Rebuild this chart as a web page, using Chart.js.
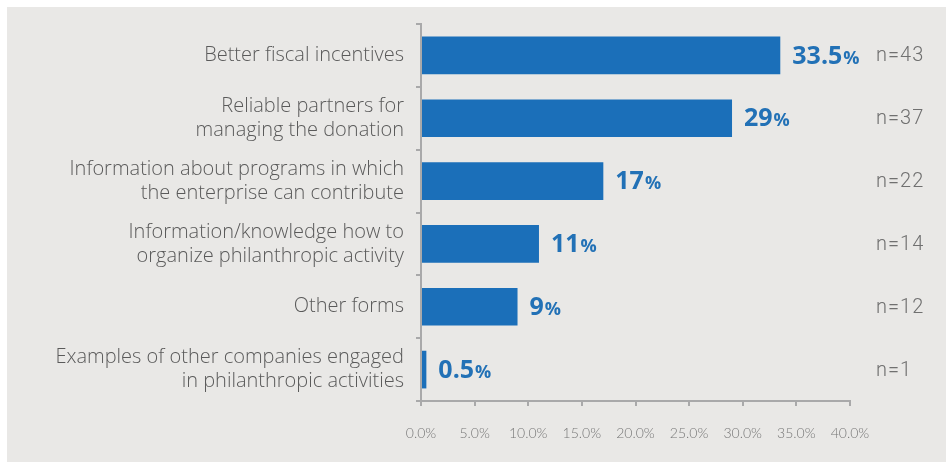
<!DOCTYPE html>
<html>
<head>
<meta charset="utf-8">
<script src="https://cdn.jsdelivr.net/npm/chart.js@4"></script>
<style>
  html, body { margin: 0; padding: 0; background: #ffffff; }
  #cadre {
    position: absolute; left: 7px; top: 7px;
    width: 939px; height: 455px;
    background: #e9e8e6;
  }
</style>
</head>
<body>
<div id="cadre"><canvas id="chartAides" width="939" height="455"></canvas></div>
<script>
// ── DONNÉES ───────────────────────────────────────
const categories = [
  'Better fiscal incentives',
  ['Reliable partners for', 'managing the donation'],
  ['Information about programs in which', 'the enterprise can contribute'],
  ['Information/knowledge how to', 'organize philanthropic activity'],
  'Other forms',
  ['Examples of other companies engaged', 'in philanthropic activities']
];
const pourcentages = [33.5, 29, 17, 11, 9, 0.5];
const effectifs    = [43, 37, 22, 14, 12, 1];
const ticksX       = [0, 5, 10, 15, 20, 25, 30, 35, 40];

// ── COULEURS ──────────────────────────────────────
const COULEURS = {
  barre:  '#1b6fb9',
  valeur: '#2271b6',
  texte:  '#5a5a5a',
  axe:    '#a9a9aa',
  n:      '#707070'
};

// Étiquettes de valeur (33.5%) + effectif (n=43) à droite
const etiquettes = {
  id: 'etiquettes',
  afterDatasetsDraw(chart) {
    const ctx  = chart.ctx;
    const meta = chart.getDatasetMeta(0);
    const aire = chart.chartArea;
    ctx.save();
    ctx.textBaseline = 'middle';
    meta.data.forEach(function(barre, i) {
      const y = barre.y + 1;
      let x = barre.x + 12;
      const chiffre = String(pourcentages[i]);
      ctx.fillStyle = COULEURS.valeur;
      ctx.textAlign = 'left';
      ctx.font = 'bold 25px "Open Sans"';
      ctx.fillText(chiffre, x, y);
      x += ctx.measureText(chiffre).width + 1;
      ctx.font = 'bold 18px "Open Sans"';
      ctx.fillText('%', x, y + 2);

      ctx.fillStyle = COULEURS.n;
      ctx.font = '300 20px Roboto';
      ctx.letterSpacing = '1px';
      ctx.fillText('n=' + effectifs[i], aire.right + 26, y);
      ctx.letterSpacing = '0px';
    });
    ctx.restore();
  }
};

new Chart(document.getElementById('chartAides'), {
  type: 'bar',
  data: {
    labels: categories,
    datasets: [{
      data: pourcentages,
      backgroundColor: COULEURS.barre,
      barPercentage: 0.6,
      categoryPercentage: 1
    }]
  },
  options: {
    indexAxis: 'y',
    responsive: false,
    animation: false,
    layout: { padding: { top: 17, right: 96, bottom: 0, left: 0 } },
    plugins: { legend: { display: false }, tooltip: { enabled: false } },
    scales: {
      x: {
        min: 0, max: 40,
        afterBuildTicks: function(axe) { axe.ticks = ticksX.map(v => ({ value: v })); },
        afterFit: function(axe) { axe.height = 61; axe.paddingLeft = 0; axe.paddingRight = 0; },
        border: { color: COULEURS.axe, width: 2 },
        grid: { drawOnChartArea: false, drawTicks: true, tickLength: 5, color: COULEURS.axe, lineWidth: 2 },
        ticks: {
          color: '#777777',
          padding: 19,
          maxRotation: 0,
          font: { family: 'Lato', size: 14, weight: '300' },
          callback: v => v.toFixed(1) + '%'
        }
      },
      y: {
        afterFit: function(axe) { axe.width = 414; axe.paddingTop = 0; axe.paddingBottom = 0; },
        border: { color: COULEURS.axe, width: 2 },
        grid: { drawOnChartArea: false, drawTicks: true, tickLength: 5, color: COULEURS.axe, lineWidth: 2 },
        ticks: {
          color: COULEURS.texte,
          padding: 12,
          font: { family: 'Open Sans', size: 20, weight: '300', lineHeight: 1.2 }
        }
      }
    }
  },
  plugins: [etiquettes]
});
</script>
</body>
</html>
